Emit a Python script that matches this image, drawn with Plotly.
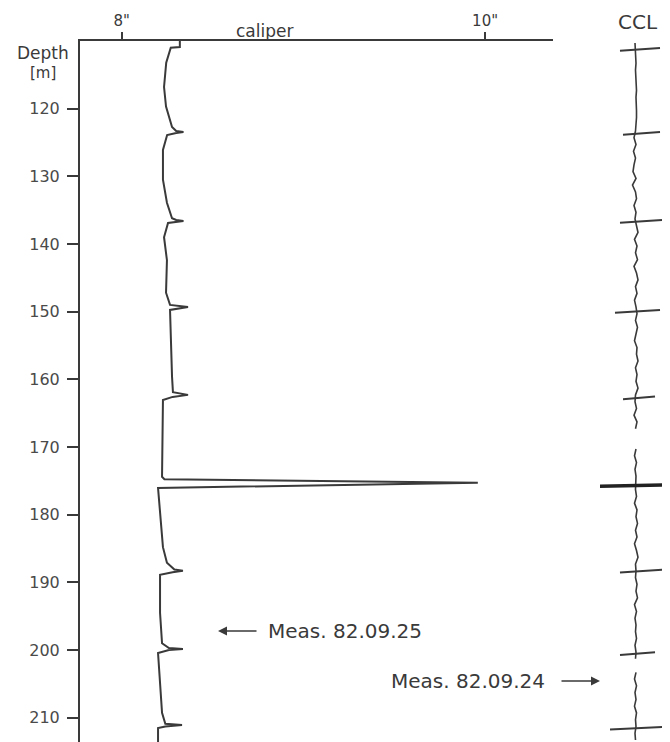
import plotly.graph_objects as go

# ---------------- data ----------------
# caliper log (depth in m, caliper in inches)
cal_depth = [110.0, 110.9, 111.0, 113.2, 116.8, 119.7, 122.7, 123.3, 123.45, 123.6, 123.9,
             126.1, 130.5, 133.9, 136.2, 136.45, 136.6, 136.75, 136.9,
             139.0, 142.4, 147.2, 149.0, 149.3, 149.75,
             159.6, 161.9, 162.3, 162.6, 163.05,
             174.4, 174.75, 175.3, 176.05,
             179.75, 184.8, 187.1, 188.1, 188.3, 188.5, 188.9,
             194.5, 199.0, 199.7, 199.85, 200.0, 200.45,
             204.4, 209.3, 210.9, 211.1, 211.3, 211.55, 213.6]
cal_value = [8.32, 8.32, 8.27, 8.245, 8.233, 8.244, 8.277, 8.30, 8.34, 8.30, 8.25,
             8.227, 8.227, 8.249, 8.277, 8.30, 8.34, 8.30, 8.255,
             8.233, 8.249, 8.244, 8.266, 8.365, 8.266,
             8.277, 8.282, 8.365, 8.28, 8.227,
             8.222, 8.235, 9.96, 8.20,
             8.211, 8.227, 8.249, 8.29, 8.337, 8.28, 8.211,
             8.211, 8.222, 8.26, 8.337, 8.26, 8.20,
             8.211, 8.222, 8.24, 8.332, 8.24, 8.20, 8.20]

# CCL log: base trace (1 m steps) and collar kicks
ccl_depth = [110.3 + i for i in range(104)]
ccl_value = [0, 0.5, 0.5, 1, 0.5, 1, 1, 1.5, 1, 1.5, 1.5, 1.5, 1, 0.5,
             -1, 1, -1.5, 0.5, -1, -2, 1, -2.5, 0.5, 1.5, -1, 1, 0,
             1.5, 3, -0.5, 2, 0.5, 2.5, -1, 1.5, 3, 0.5, 2, -0.5, 1,
             2, 0.5, 2.5, 1, -0.5, 2, 1.5, 3, 0.5, 2, 1, 3, 0.5,
             0, 1.5, -1, 2, 0.5, None, None, 1, -0.5, 1.5, 0, 1, 0.5,
             0.5, 1.5, -0.5, 2, 1, 2.5, 0.5, 2, -0.5, 1.5, 3, 0.5, 1,
             0.5, 2, 1, 2.5, -0.5, 1.5, 0, 1, 0.5, 1.5, 0, 1,
             0.5, None, 1, -0.5, 1.5, 0, 1, -0.5, 1.5, 0.5, 1, 0, 0.5]
ccl_collar_depth = [111.2, 123.6, 136.6, 149.9, 162.7, 175.7, 188.3, 200.5, 211.5]
ccl_kick_left = [-15, -12, -15, -20, -12, -37, -15, -15, -25]
ccl_kick_right = [25, 25, 27, 25, 20, 37, 28, 20, 30]

# axis ticks
depth_ticks = [120, 130, 140, 150, 160, 170, 180, 190, 200, 210]
cal_ticks = [8, 10]
cal_tick_text = ['8"', '10"']

# ---------------- figure ----------------
VIEW_W, VIEW_H = 670, 742
OFF = 8                      # default page body margin
W, H = VIEW_W - OFF, VIEW_H - OFF
INK = "#3a3a3a"
FONT = "DejaVu Sans"

def px_x(x):
    return (x - OFF) / W

def px_y(y):
    return 1 - (y - OFF) / H

fig = go.Figure()

fig.add_trace(go.Scatter(x=cal_value, y=cal_depth, mode="lines",
                         line=dict(color=INK, width=2), xaxis="x", yaxis="y",
                         hoverinfo="skip", showlegend=False))

fig.add_trace(go.Scatter(x=ccl_value, y=ccl_depth[:len(ccl_value)], mode="lines",
                         line=dict(color=INK, width=1.6), xaxis="x2", yaxis="y",
                         connectgaps=False, hoverinfo="skip", showlegend=False))

big = max(range(len(ccl_collar_depth)),
          key=lambda i: ccl_kick_right[i] - ccl_kick_left[i])
kx, ky, bx, by = [], [], [], []
for i, d in enumerate(ccl_collar_depth):
    xs = [ccl_kick_left[i], ccl_kick_right[i], None]
    if i == big:
        bx += xs; by += [d + 0.1, d - 0.1, None]
    else:
        kx += xs; ky += [d + 0.25, d - 0.15, None]
fig.add_trace(go.Scatter(x=kx, y=ky, mode="lines", line=dict(color=INK, width=2),
                         xaxis="x2", yaxis="y", hoverinfo="skip", showlegend=False))
fig.add_trace(go.Scatter(x=bx, y=by, mode="lines", line=dict(color="#222", width=3.5),
                         xaxis="x2", yaxis="y", hoverinfo="skip", showlegend=False))

y_top_px = 41
x_left_px, x_right_px = 80, 553
px_per_in = 181.7
x8_px = 121.7
cal_lo = 8 + (x_left_px - x8_px) / px_per_in
cal_hi = 8 + (x_right_px - x8_px) / px_per_in

fig.update_layout(
    width=W, height=H,
    margin=dict(l=0, r=0, t=0, b=0, autoexpand=False),
    paper_bgcolor="white", plot_bgcolor="white",
    font=dict(family=FONT, color=INK),
    xaxis=dict(domain=[px_x(x_left_px), px_x(x_right_px)], range=[cal_lo, cal_hi],
               side="top", anchor="y", showline=True, linecolor=INK, linewidth=2,
               showgrid=False, zeroline=False, ticks="outside", ticklen=7,
               tickwidth=1.5, tickcolor=INK, tickvals=cal_ticks, ticktext=cal_tick_text,
               tickfont=dict(size=15, color=INK, family=FONT), automargin=False),
    xaxis2=dict(domain=[px_x(600), 1.0], range=[-35, 35], anchor="y", visible=False,
                showgrid=False, zeroline=False),
    yaxis=dict(domain=[0, px_y(y_top_px)], range=[213.6, 110.0], anchor="x",
               showline=True, linecolor=INK, linewidth=2, showgrid=False,
               zeroline=False, ticks="outside", ticklen=11, tickwidth=1.5,
               tickcolor=INK, tickvals=depth_ticks, ticklabelstandoff=4,
               tickfont=dict(size=16, color="#4a4a4a", family=FONT), automargin=False),
)

def px_ann(text, x, y, size, xanchor="center"):
    fig.add_annotation(text=text, x=px_x(x), y=px_y(y), xref="paper", yref="paper",
                       showarrow=False, xanchor=xanchor, yanchor="middle",
                       font=dict(size=size, color=INK, family=FONT))

px_ann("caliper", 264, 31, 17)
px_ann("CCL", 638, 22, 20)
px_ann("Depth", 43, 53, 17)
px_ann("[m]", 43, 73, 15)
px_ann("Meas. 82.09.25", 266, 631, 20, xanchor="left")
px_ann("Meas. 82.09.24", 547, 681, 20, xanchor="right")

def arrow(x_head, x_tail, y):
    fig.add_annotation(text="", x=px_x(x_head), y=px_y(y), xref="paper", yref="paper",
                       ax=x_tail - x_head, ay=0, axref="pixel", ayref="pixel",
                       showarrow=True, arrowhead=2, arrowsize=1.2, arrowwidth=1.5,
                       arrowcolor=INK, standoff=0, startstandoff=0)

arrow(218, 258, 631)
arrow(600, 560, 681)

fig.write_html("out.html")
